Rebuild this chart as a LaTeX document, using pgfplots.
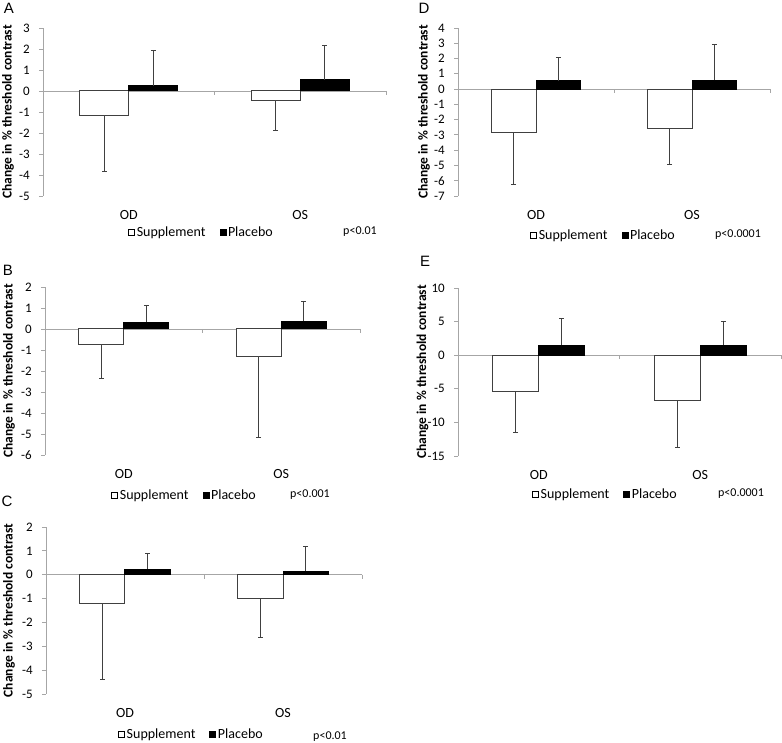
\documentclass[border=0pt]{standalone}
\usepackage{pgfplots}
\pgfplotsset{compat=1.18}
\usepackage{fontspec}
\setmainfont{Carlito}
\newfontfamily\arial{Liberation Sans}
\definecolor{axgray}{HTML}{A6A6A6}
\definecolor{bargray}{HTML}{404040}
\pgfplotsset{
  panel/.style={
    scale only axis,
    height=168pt,
    xmin=0, xmax=2,
    axis x line=bottom, axis y line=left,
    axis line style={-, draw=axgray, line width=0.8pt},
    x axis line style={draw=none},
    xtick={0.5,1.5}, xticklabels={OD,OS},
    x tick style={draw=none},
    xticklabel style={font=\fontsize{14}{16}\selectfont, anchor=base, yshift=-20pt},
    y tick style={draw=axgray, line width=0.8pt},
    tick align=outside, major tick length=4pt,
    yticklabel style={font=\fontsize{13}{15}\selectfont, anchor=east, inner sep=0pt, xshift=-9pt},
    /pgf/number format/assume math mode=true,
    ylabel={Change in \% threshold contrast},
    ybar=0pt, bar width=0.286,
    legend columns=2,
    legend style={draw=none, fill=none, inner sep=0pt, anchor=west,
      font=\fontsize{14}{16}\selectfont,
      nodes={inner sep=2pt}},
    clip=false,
  },
  supp/.style={fill=white, draw=bargray, line width=1pt,
    legend image code/.code={\draw[fill=white, draw=black, line width=0.5pt] (0pt,-3pt) rectangle (6pt,3pt);},
    error bars/.cd, y dir=minus, y explicit,
    error bar style={draw=bargray, line width=1pt},
    error mark options={rotate=90, draw=bargray, mark size=2.5pt, line width=1pt}},
  plac/.style={fill=black, draw=black, line width=1pt,
    legend image code/.code={\draw[fill=black, draw=black, line width=0.5pt] (0pt,-3pt) rectangle (6pt,3pt);},
    error bars/.cd, y dir=plus, y explicit,
    error bar style={draw=bargray, line width=1pt},
    error mark options={rotate=90, draw=bargray, mark size=2.5pt, line width=1pt}},
}
\newcommand{\zeroline}{%
  \draw[axgray, line width=0.8pt] (axis cs:0,0) -- (axis cs:2,0);
  \draw[axgray, line width=0.8pt] (axis cs:1,0) -- ([yshift=-4pt]axis cs:1,0);
  \draw[axgray, line width=0.8pt] (axis cs:2,0) -- ([yshift=-4pt]axis cs:2,0);}
\begin{document}
\begin{tikzpicture}
\useasboundingbox (0,0) rectangle (782pt,743pt);
% ---------- A ----------
\begin{axis}[panel, at={(43pt,547pt)}, anchor=south west, width=343pt,
  ymin=-5, ymax=3, ytick={-5,...,3},
  ylabel style={at={(axis description cs:-0.102,0.5)}, anchor=center, font=\fontsize{13.5}{15}\selectfont\bfseries},
  legend style={at={(axis description cs:0.248,-0.214)}}]
\zeroline
\addplot[supp] coordinates {(0.5,-1.17) +- (0,2.66) (1.5,-0.46) +- (0,1.40)};
\addplot[plac] coordinates {(0.5,0.25) +- (0,1.70) (1.5,0.54) +- (0,1.62)};
\legend{Supplement\hspace{12pt}\mbox{}, Placebo}
\end{axis}
% ---------- D ----------
\begin{axis}[panel, at={(458pt,547pt)}, anchor=south west, width=312pt,
  ymin=-7, ymax=4, ytick={-7,...,4},
  ylabel style={at={(axis description cs:-0.109,0.5)}, anchor=center, font=\fontsize{13.5}{15}\selectfont\bfseries},
  legend style={at={(axis description cs:0.231,-0.232)}}]
\zeroline
\addplot[supp] coordinates {(0.5,-2.87) +- (0,3.37) (1.5,-2.58) +- (0,2.37)};
\addplot[plac] coordinates {(0.5,0.53) +- (0,1.53) (1.5,0.59) +- (0,2.30)};
\legend{Supplement\hspace{12pt}\mbox{}, Placebo}
\end{axis}
% ---------- B ----------
\begin{axis}[panel, at={(45pt,288pt)}, anchor=south west, width=315pt,
  ymin=-6, ymax=2, ytick={-6,...,2},
  ylabel style={at={(axis description cs:-0.114,0.5)}, anchor=center, font=\fontsize{13.5}{15}\selectfont\bfseries},
  legend style={at={(axis description cs:0.210,-0.238)}}]
\zeroline
\addplot[supp] coordinates {(0.5,-0.75) +- (0,1.60) (1.5,-1.32) +- (0,3.83)};
\addplot[plac] coordinates {(0.5,0.33) +- (0,0.78) (1.5,0.37) +- (0,0.93)};
\legend{Supplement\hspace{12pt}\mbox{}, Placebo}
\end{axis}
% ---------- E ----------
\begin{axis}[panel, at={(458pt,287pt)}, anchor=south west, width=323pt,
  ymin=-15, ymax=10, ytick={-15,-10,...,10},
  ylabel style={at={(axis description cs:-0.110,0.5)}, anchor=center, font=\fontsize{13.5}{15}\selectfont\bfseries},
  legend style={at={(axis description cs:0.229,-0.226)}}]
\zeroline
\addplot[supp] coordinates {(0.5,-5.35) +- (0,6.08) (1.5,-6.78) +- (0,7.02)};
\addplot[plac] coordinates {(0.5,1.49) +- (0,3.91) (1.5,1.49) +- (0,3.56)};
\legend{Supplement\hspace{12pt}\mbox{}, Placebo}
\end{axis}
% ---------- C ----------
\begin{axis}[panel, at={(46pt,49pt)}, anchor=south west, width=316pt, height=167pt,
  ymin=-5, ymax=2, ytick={-5,...,2},
  ylabel style={at={(axis description cs:-0.117,0.5)}, anchor=center, font=\fontsize{13.5}{15}\selectfont\bfseries},
  legend style={at={(axis description cs:0.228,-0.240)}}]
\zeroline
\addplot[supp] coordinates {(0.5,-1.22) +- (0,3.18) (1.5,-1.01) +- (0,1.63)};
\addplot[plac] coordinates {(0.5,0.22) +- (0,0.67) (1.5,0.14) +- (0,1.06)};
\legend{Supplement\hspace{12pt}\mbox{}, Placebo}
\end{axis}
% p-values
\node[font=\fontsize{12}{14}\selectfont] at (360pt,511pt) {p<0.01};
\node[font=\fontsize{12}{14}\selectfont] at (738pt,508pt) {p<0.0001};
\node[font=\fontsize{12}{14}\selectfont] at (310pt,248pt) {p<0.001};
\node[font=\fontsize{12}{14}\selectfont] at (741pt,249pt) {p<0.0001};
\node[font=\fontsize{12}{14}\selectfont] at (330pt,6pt) {p<0.01};
% panel letters
\node[font=\arial\fontsize{15}{17}\selectfont] at (9pt,734.5pt) {A};
\node[font=\arial\fontsize{15}{17}\selectfont] at (424pt,734.5pt) {D};
\node[font=\arial\fontsize{15}{17}\selectfont] at (8pt,472.5pt) {B};
\node[font=\arial\fontsize{15}{17}\selectfont] at (425pt,481.5pt) {E};
\node[font=\arial\fontsize{15}{17}\selectfont] at (7pt,242pt) {C};
\end{tikzpicture}
\end{document}
